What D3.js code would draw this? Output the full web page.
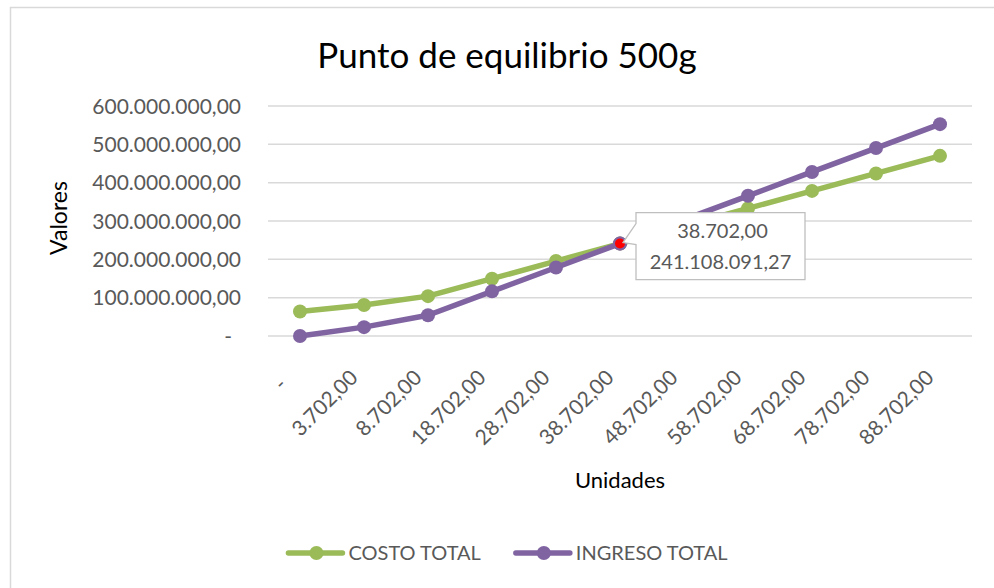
<!DOCTYPE html>
<html><head><meta charset="utf-8">
<script src="https://cdn.jsdelivr.net/npm/d3@7"></script>
<style>
html,body{margin:0;padding:0;background:#fff;}
svg{display:block;font-family:Lato, "Open Sans", sans-serif;}
</style></head>
<body>
<svg id="chart" width="994" height="588"></svg>
<script>
// ---- data ----
const categories = [0, 3702, 8702, 18702, 28702, 38702, 48702, 58702, 68702, 78702, 88702];
const costoTotal = [64e6, 81e6, 104e6, 149.5e6, 195.5e6, 241.1e6, 287e6, 333e6, 378.5e6, 424e6, 470e6];
const ingresoTotal = [0, 23.1e6, 54.2e6, 116.5e6, 178.8e6, 241.108e6, 303.4e6, 365.7e6, 428e6, 490.3e6, 552.6e6];
const yTicks = [0, 100e6, 200e6, 300e6, 400e6, 500e6, 600e6];
const seriesNames = ["COSTO TOTAL", "INGRESO TOTAL"];
const breakEvenIndex = 5;
const breakEvenValue = 241108091.27;

const colors = ["#9BBB59", "#8064A2"];
const loc = d3.formatLocale({decimal: ",", thousands: ".", grouping: [3], currency: ["", ""]});
const fmt = loc.format(",.2f");
const fmtLabel = v => v === 0 ? "-" : fmt(v);

const svg = d3.select("#chart");
const W = 994, H = 588;

// chart border
svg.append("rect").attr("x", 10.5).attr("y", 7.5).attr("width", 1000).attr("height", 600)
  .attr("fill", "#fff").attr("stroke", "#d9d9d9").attr("stroke-width", 1.5);

const x = d3.scaleBand().domain(categories).range([268, 972]).padding(0);
const cx = c => x(c) + x.bandwidth() / 2;
const y = d3.scaleLinear().domain([0, 600e6]).range([336, 106]);

// title
svg.append("text").attr("x", 507).attr("y", 68).attr("text-anchor", "middle")
  .attr("font-size", 35).attr("fill", "#000").text("Punto de equilibrio 500g");

// gridlines
svg.append("g").selectAll("line").data(yTicks).join("line")
  .attr("x1", 268).attr("x2", 972).attr("y1", d => y(d)).attr("y2", d => y(d))
  .attr("stroke", "#d9d9d9").attr("stroke-width", 1.5);

// y axis labels
svg.append("g").selectAll("text").data(yTicks).join("text")
  .attr("x", d => d === 0 ? 232 : 241).attr("y", d => y(d)).attr("dy", "0.36em")
  .attr("text-anchor", "end").attr("font-size", 21).attr("fill", "#595959")
  .text(fmtLabel);

// x axis labels
svg.append("g").selectAll("text").data(categories).join("text")
  .attr("transform", d => `translate(${cx(d) - 5},379) rotate(-45)`)
  .attr("dx", d => d === 0 ? -10 : 0)
  .attr("text-anchor", "end").attr("font-size", 21).attr("fill", "#595959")
  .text(fmtLabel);

// axis titles
svg.append("text").attr("transform", "translate(67,218) rotate(-90)")
  .attr("text-anchor", "middle").attr("font-size", 23).attr("fill", "#000").text("Valores");
svg.append("text").attr("x", 620).attr("y", 488)
  .attr("text-anchor", "middle").attr("font-size", 22).attr("fill", "#000").text("Unidades");

// series
const series = [costoTotal, ingresoTotal];
const line = d3.line().x((d, i) => cx(categories[i])).y(d => y(d));
series.forEach((s, k) => {
  const g = svg.append("g");
  g.append("path").attr("d", line(s)).attr("fill", "none")
    .attr("stroke", colors[k]).attr("stroke-width", 5.5).attr("stroke-linejoin", "round").attr("stroke-linecap", "round");
  g.selectAll("circle").data(s).join("circle")
    .attr("cx", (d, i) => cx(categories[i])).attr("cy", d => y(d)).attr("r", 7)
    .attr("fill", colors[k]);
});

// highlighted break-even point
const bx = cx(categories[breakEvenIndex]), by = y(breakEvenValue);
svg.append("circle").attr("cx", bx).attr("cy", by).attr("r", 6)
  .attr("fill", "#ff0000").attr("stroke", colors[1]).attr("stroke-width", 2);

// callout
const bl = bx + 16, bt = by - 31, br = bl + 169, bb = bt + 67;
svg.append("path")
  .attr("d", `M${bl},${bt} H${br} V${bb} H${bl} V${by + 1} L${bx + 3},${by - 1} L${bl},${by - 20} Z`)
  .attr("fill", "#fff").attr("stroke", "#bfbfbf").attr("stroke-width", 1.3);
const lcx = (bl + br) / 2;
svg.append("text").attr("x", lcx + 2).attr("y", bt + 25).attr("text-anchor", "middle")
  .attr("font-size", 20).attr("fill", "#595959").text(fmt(categories[breakEvenIndex]));
svg.append("text").attr("x", lcx).attr("y", bt + 56).attr("text-anchor", "middle")
  .attr("font-size", 20).attr("fill", "#595959").text(fmt(breakEvenValue));

// legend
const lg = svg.append("g");
const items = [];
let cursor = 0;
seriesNames.forEach((name, k) => {
  const it = lg.append("g");
  it.append("line").attr("x1", 0).attr("x2", 54).attr("y1", 0).attr("y2", 0)
    .attr("stroke", colors[k]).attr("stroke-width", 5.5).attr("stroke-linecap", "round");
  it.append("circle").attr("cx", 28).attr("cy", 0).attr("r", 7).attr("fill", colors[k]);
  const t = it.append("text").attr("x", 60).attr("dy", "0.36em").attr("font-size", 20)
    .attr("fill", "#595959").text(name);
  const w = 60 + t.node().getComputedTextLength();
  items.push({it, w});
});
const gap = 35;
const total = items.reduce((a, b) => a + b.w, 0) + gap * (items.length - 1);
let sx = 508 - total / 2;
items.forEach(o => { o.it.attr("transform", `translate(${sx},553)`); sx += o.w + gap; });
</script>
</body></html>
